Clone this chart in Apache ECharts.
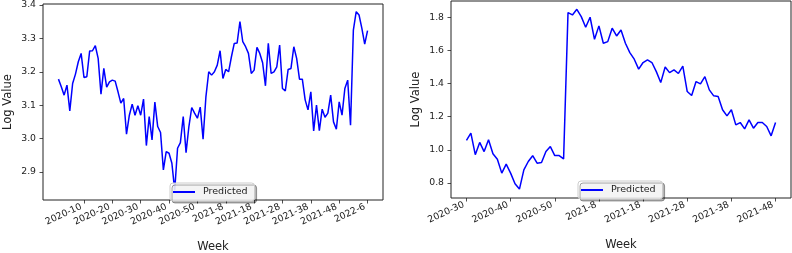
<!DOCTYPE html>
<html>
<head>
<meta charset="utf-8">
<script src="https://cdn.jsdelivr.net/npm/echarts@6/dist/echarts.min.js"></script>
<style>
    html, body { margin: 0; padding: 0; background: #fff; }
    #chart { width: 792px; height: 253px; }
</style>
</head>
<body>
<div id="chart"></div>
<script>
// week labels: 2020 is numbered 1..52 in this data
function weekList(year, week, count) {
    const out = [];
    for (let k = 0; k < count; k++) {
        out.push(year + '-' + week);
        week++;
        if (week > 52) { week = 1; year++; }
    }
    return out;
}

const leftWeeks = weekList(2020, 1, 110);
const rightWeeks = weekList(2020, 30, 71);

const leftValues = [
    3.178, 3.155, 3.13, 3.16, 3.083, 3.165, 3.193, 3.23, 3.255, 3.183,
    3.185, 3.262, 3.263, 3.278, 3.24, 3.133, 3.21, 3.154, 3.17, 3.175,
    3.172, 3.14, 3.106, 3.12, 3.013, 3.07, 3.103, 3.07, 3.098, 3.07,
    3.118, 2.979, 3.066, 2.996, 3.109, 3.036, 3.018, 2.906, 2.961, 2.956,
    2.926, 2.845, 2.971, 2.988, 3.066, 2.958, 3.036, 3.093, 3.076, 3.061,
    3.094, 2.998, 3.125, 3.2, 3.19, 3.2, 3.22, 3.263, 3.18, 3.207,
    3.2, 3.245, 3.285, 3.286, 3.35, 3.29, 3.275, 3.255, 3.195, 3.205,
    3.273, 3.255, 3.227, 3.158, 3.285, 3.195, 3.2, 3.215, 3.28, 3.15,
    3.143, 3.207, 3.21, 3.275, 3.24, 3.178, 3.178, 3.116, 3.086, 3.14,
    3.023, 3.1, 3.024, 3.088, 3.064, 3.076, 3.13, 3.05, 3.028, 3.11,
    3.07, 3.15, 3.175, 3.04, 3.325, 3.38, 3.37, 3.33, 3.283, 3.323
];

const rightValues = [
    1.057, 1.101, 0.971, 1.045, 0.99, 1.061, 0.977, 0.944, 0.86, 0.914,
    0.86, 0.796, 0.764, 0.88, 0.93, 0.965, 0.92, 0.924, 0.99, 1.02,
    0.966, 0.966, 0.946, 1.828, 1.814, 1.848, 1.804, 1.74, 1.8, 1.667,
    1.748, 1.643, 1.653, 1.734, 1.687, 1.723, 1.643, 1.587, 1.547, 1.487,
    1.527, 1.543, 1.527, 1.472, 1.406, 1.5, 1.466, 1.483, 1.461, 1.505,
    1.352, 1.328, 1.412, 1.398, 1.442, 1.362, 1.326, 1.322, 1.242, 1.205,
    1.242, 1.151, 1.165, 1.127, 1.181, 1.131, 1.165, 1.165, 1.141, 1.085,
    1.165
];

const leftTickLabels = ['2020-10', '2020-20', '2020-30', '2020-40', '2020-50', '2021-8',
    '2021-18', '2021-28', '2021-38', '2021-48', '2022-6'];
const rightTickLabels = ['2020-30', '2020-40', '2020-50', '2021-8', '2021-18',
    '2021-28', '2021-38', '2021-48'];
const leftYTicks = [2.9, 3.0, 3.1, 3.2, 3.3, 3.4];
const rightYTicks = [0.8, 1.0, 1.2, 1.4, 1.6, 1.8];

const FONT = 'DejaVu Sans';
const leftTickPos = leftTickLabels.map(l => leftWeeks.indexOf(l));
const rightTickPos = rightTickLabels.map(l => rightWeeks.indexOf(l));

function xAxisFor(grid, weeks, ticks, n) {
    const pad = (n - 1) * 0.05;
    return {
        type: 'value', gridIndex: grid,
        min: -pad, max: n - 1 + pad,
        name: 'Week', nameLocation: 'middle', nameGap: 41,
        nameTextStyle: { fontFamily: FONT, fontSize: 11.5, color: '#222' },
        axisLine: { show: false, onZero: false },
        splitLine: { show: false },
        axisTick: { customValues: ticks, length: 3.5, lineStyle: { color: '#222', width: 0.8 } },
        axisLabel: {
            customValues: ticks, rotate: 25, margin: 5, padding: [0, 3, 0, 0],
            fontFamily: FONT, fontSize: 9.3, color: '#222',
            formatter: v => weeks[Math.round(v)]
        }
    };
}

function yAxisFor(grid, min, max, ticks) {
    return {
        type: 'value', gridIndex: grid, min: min, max: max,
        name: 'Log Value', nameLocation: 'middle', nameGap: 29,
        nameTextStyle: { fontFamily: FONT, fontSize: 11.5, color: '#222' },
        axisLine: { show: false, onZero: false },
        splitLine: { show: false },
        axisTick: { customValues: ticks, length: 3.5, lineStyle: { color: '#222', width: 0.8 } },
        axisLabel: {
            customValues: ticks, margin: 7,
            fontFamily: FONT, fontSize: 9.3, color: '#222',
            formatter: v => v.toFixed(1)
        }
    };
}

function legendAt(left, top) {
    return {
        left: left, top: top, selectedMode: false,
        data: [{ name: 'Predicted', icon: 'rect' }],
        itemWidth: 22, itemHeight: 2,
        padding: [4, 7, 4, 3],
        backgroundColor: 'rgba(255,255,255,0.85)',
        borderColor: '#ccc', borderWidth: 1, borderRadius: 3,
        shadowColor: 'rgba(0,0,0,0.35)', shadowOffsetX: 2, shadowOffsetY: 2, shadowBlur: 0,
        textStyle: { fontFamily: FONT, fontSize: 9.5, color: '#222', padding: [0, 0, 0, 3] }
    };
}

const chart = echarts.init(document.getElementById('chart'));
chart.setOption({
    animation: false,
    grid: [
        { left: 43, top: 4, width: 340, height: 196, outerBoundsMode: 'none', containLabel: false,
          show: true, borderColor: '#222', borderWidth: 1 },
        { left: 451, top: 1, width: 340, height: 197, outerBoundsMode: 'none', containLabel: false,
          show: true, borderColor: '#222', borderWidth: 1 }
    ],
    xAxis: [
        xAxisFor(0, leftWeeks, leftTickPos, leftValues.length),
        xAxisFor(1, rightWeeks, rightTickPos, rightValues.length)
    ],
    yAxis: [
        yAxisFor(0, 2.816, 3.403, leftYTicks),
        yAxisFor(1, 0.71, 1.898, rightYTicks)
    ],
    legend: [legendAt(170, 183), legendAt(578, 181)],
    series: [
        {
            name: 'Predicted', type: 'line', xAxisIndex: 0, yAxisIndex: 0,
            symbol: 'none', color: '#0000ff', lineStyle: { width: 1.5 },
            data: leftValues.map((v, i) => [i, v])
        },
        {
            name: 'Predicted', type: 'line', xAxisIndex: 1, yAxisIndex: 1,
            symbol: 'none', color: '#0000ff', lineStyle: { width: 1.5 },
            data: rightValues.map((v, i) => [i, v])
        }
    ]
});
</script>
</body>
</html>
